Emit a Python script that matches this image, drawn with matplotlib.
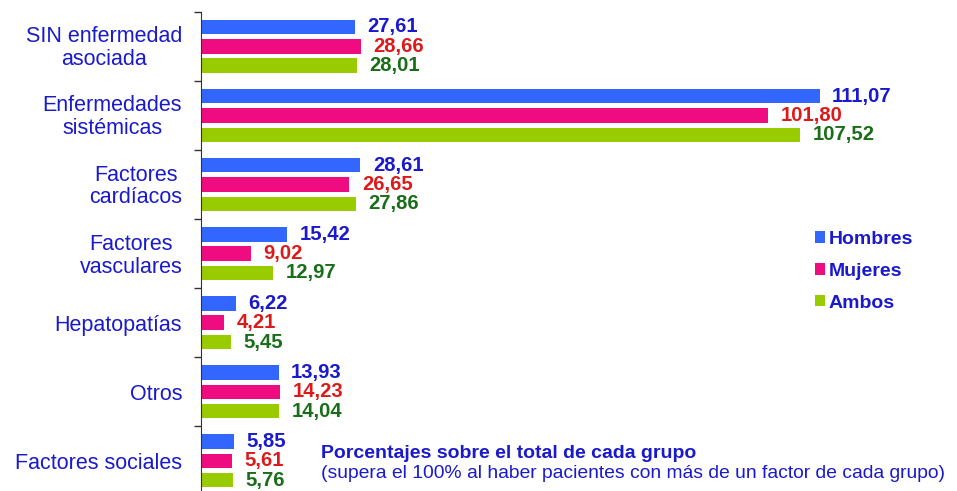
import numpy as np
import matplotlib.pyplot as plt
from matplotlib.transforms import ScaledTranslation

plt.rcParams['font.family'] = ['Liberation Sans', 'DejaVu Sans']

# Datos (porcentajes sobre el total de cada grupo)
categorias = ['SIN enfermedad\nasociada', 'Enfermedades\nsistémicas', 'Factores\ncardíacos',
              'Factores\nvasculares', 'Hepatopatías', 'Otros', 'Factores sociales']
hombres = [27.61, 111.07, 28.61, 15.42, 6.22, 13.93, 5.85]
mujeres = [28.66, 101.80, 26.65, 9.02, 4.21, 14.23, 5.61]
ambos = [28.01, 107.52, 27.86, 12.97, 5.45, 14.04, 5.76]
series = ['Hombres', 'Mujeres', 'Ambos']

bar_colors = ['#3366ff', '#ee0c80', '#99cc00']
text_colors = ['#1a1acc', '#dd1a1a', '#1a6e1a']
azul = '#1a1acc'

fig = plt.figure(figsize=(9.57, 4.91), dpi=100)
ax = fig.add_axes([201 / 957, -0.009, 756 / 957, 0.985])

n = len(categorias)
centros = np.arange(n) + 0.5
paso = 0.28
alto = 0.21

handles = []
for i, (vals, nombre) in enumerate(zip([hombres, mujeres, ambos], series)):
    y = centros + (i - 1) * paso
    b = ax.barh(y, vals, height=alto, color=bar_colors[i], label=nombre)
    handles.append(b)
    for yy, v in zip(y, vals):
        ax.annotate(f'{v:.2f}'.replace('.', ','), (v, yy), xytext=(9, 0),
                    textcoords='offset points', ha='left', va='center',
                    fontsize=14.6, fontweight='bold', color=text_colors[i])

ax.set_xlim(0, 756 / 5.57)
ax.set_ylim(n, 0)

# separadores de grupo como ticks mayores, nombres como ticks menores
ax.set_yticks(np.arange(n + 1))
ax.set_yticklabels([])
ax.set_yticks(centros, minor=True)
ax.set_yticklabels(categorias, minor=True, fontsize=15.5, color=azul,
                   multialignment='center', linespacing=1.12)
ax.tick_params(axis='y', which='major', length=5, width=1, color='#333333', direction='out')
ax.tick_params(axis='y', which='minor', length=0, pad=13.5)
bajar = ScaledTranslation(0, -0.02, fig.dpi_scale_trans)
for lbl in ax.get_yticklabels(minor=True):
    if '\n' in lbl.get_text():
        lbl.set_verticalalignment('center')
        lbl.set_transform(lbl.get_transform() + bajar)

for s in ['top', 'right', 'bottom']:
    ax.spines[s].set_visible(False)
ax.spines['left'].set_color('#333333')
ax.set_xticks([])

leg = ax.legend(handles=handles, labels=series, loc='upper left',
                bbox_to_anchor=(814.5 / 957, 1 - 231 / 491), bbox_transform=fig.transFigure,
                frameon=False, handlelength=0.52, handleheight=0.52, handletextpad=0.22,
                labelspacing=0.76, prop={'size': 14, 'weight': 'bold'}, labelcolor=azul,
                borderpad=0, borderaxespad=0)

fig.text(321 / 957, 1 - 453 / 491, 'Porcentajes sobre el total de cada grupo',
         fontsize=14, fontweight='bold', color=azul, ha='left', va='center')
fig.text(321 / 957, 1 - 474 / 491,
         '(supera el 100% al haber pacientes con más de un factor de cada grupo)',
         fontsize=13.9, color=azul, ha='left', va='center')

fig.savefig('out.png', dpi=100)
